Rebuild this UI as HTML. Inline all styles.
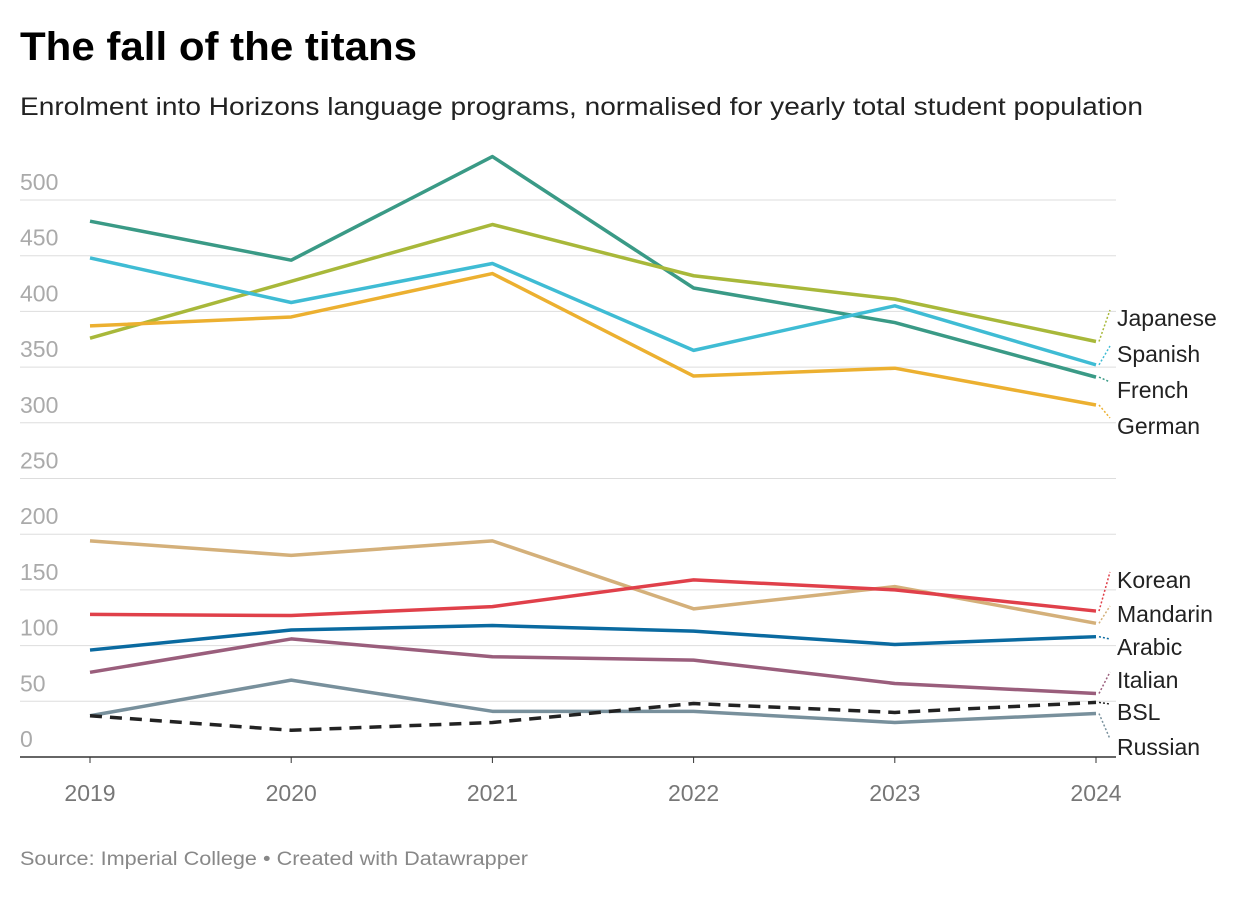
<!DOCTYPE html>
<html><head><meta charset="utf-8"><style>
body{margin:0;background:#fff;font-family:"Liberation Sans",sans-serif;}
</style></head><body>
<svg width="1240" height="892" xmlns="http://www.w3.org/2000/svg" font-family="Liberation Sans, sans-serif">
<text x="20" y="60" font-size="40" font-weight="bold" fill="#000" textLength="397" lengthAdjust="spacingAndGlyphs">The fall of the titans</text>
<text x="20" y="115" font-size="25" fill="#222" textLength="1123" lengthAdjust="spacingAndGlyphs">Enrolment into Horizons language programs, normalised for yearly total student population</text>
<g id="grid"></g><g id="lines"></g><g id="labels"></g>
<text x="20" y="865" font-size="19" fill="#888" textLength="508" lengthAdjust="spacingAndGlyphs">Source: Imperial College • Created with Datawrapper</text>
</svg>
<script>
const years=["2019","2020","2021","2022","2023","2024"];
const yTicks=[0,50,100,150,200,250,300,350,400,450,500];
const names=["French","Japanese","Spanish","German","Mandarin","Korean","Arabic","Italian","Russian","BSL"];
const French=[481,446,539,421,390,341];
const Japanese=[376,427,478,432,411,373];
const Spanish=[448,408,443,365,405,352];
const German=[387,395,434,342,349,316];
const Mandarin=[194,181,194,133,153,120];
const Korean=[128,127,135,159,150,131];
const Arabic=[96,114,118,113,101,108];
const Italian=[76,106,90,87,66,57];
const Russian=[37,69,41,41,31,39];
const BSL=[37,24,31,48,40,49];
const series=[French,Japanese,Spanish,German,Mandarin,Korean,Arabic,Italian,Russian,BSL];
const colors=["#3a9a86","#a8b83a","#3fbcd4","#ecb030","#d4b07a","#e0404a","#0a6aa0","#9a5e7c","#78909c","#222"];
const labelY={Japanese:318,Spanish:354,French:390,German:426,Korean:580,Mandarin:614,Arabic:647,Italian:680,BSL:712,Russian:747};
const NS="http://www.w3.org/2000/svg";
const x=i=>90+i*201.2, y=v=>757-v*1.114;
function mk(t,a,p){const e=document.createElementNS(NS,t);for(const k in a)e.setAttribute(k,a[k]);p.appendChild(e);return e;}
const g=document.getElementById('grid');
yTicks.forEach(t=>{
  if(t>0){const l=mk('line',{x1:20,x2:1116,y1:y(t),y2:y(t),stroke:'#ddd','stroke-width':1},g);
  
  }
  const tx=mk('text',{x:20,y:y(t)-10,'font-size':23,fill:'#aaa'},g);tx.textContent=t;
  
  
});
const b=mk('line',{x1:20,x2:1116,y1:757,y2:757,stroke:'#333','stroke-width':1.5},g);


years.forEach((yr,i)=>{
  const tk=mk('line',{x1:x(i),x2:x(i),y1:757,y2:763,stroke:'#333'},g);
  
  
  const t=mk('text',{x:x(i),y:801,'font-size':23,fill:'#777','text-anchor':'middle'},g);t.textContent=yr;
  
  
});
const L=document.getElementById('lines'),Lb=document.getElementById('labels');
series.forEach((s,k)=>{
  const p=mk('polyline',{points:s.map((v,i)=>x(i)+','+y(v)).join(' '),fill:'none',stroke:colors[k],'stroke-width':3.5,'stroke-linejoin':'round'},L);
  if(names[k]==='BSL')p.setAttribute('stroke-dasharray','12,8');
  
  
  const ly=labelY[names[k]];
  const ld=mk('line',{x1:1099,y1:y(s[5]),x2:1110,y2:ly-8,stroke:colors[k],'stroke-width':1.5,'stroke-dasharray':'2,2'},Lb);
  
  
  const t=mk('text',{x:1117,y:ly+8,'font-size':23,fill:'#222'},Lb);t.textContent=names[k];
  
  
});
</script>
</body></html>
